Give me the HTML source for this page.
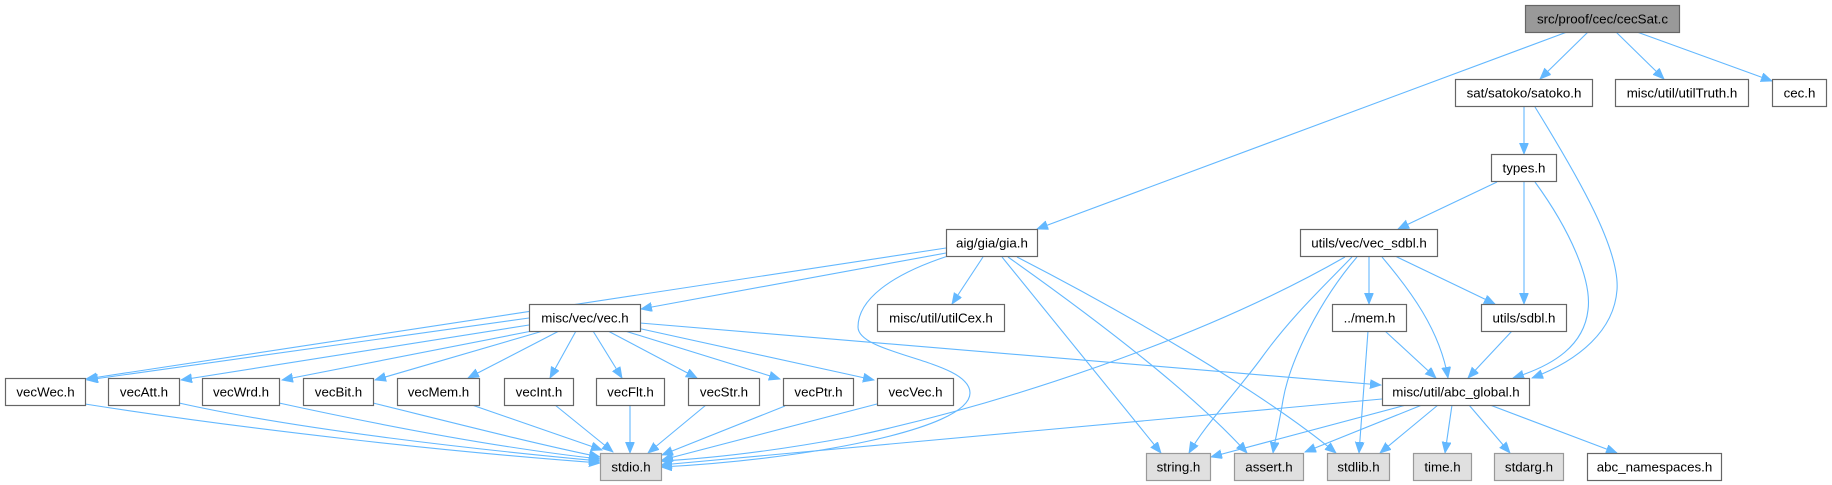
<!DOCTYPE html>
<html><head><meta charset="utf-8"><style>
html,body{margin:0;padding:0;background:#fff;}
svg{display:block;}
text{font-family:"Liberation Sans",Arial,sans-serif;font-size:13.33px;fill:#000;text-anchor:middle;}
.e{fill:none;stroke:#63b8ff;stroke-width:1.1;marker-end:url(#ah);}
.n rect{fill:#fff;stroke:#666;stroke-width:1.2;}
.g rect{fill:#e0e0e0;stroke:#999;stroke-width:1.2;}
.r rect{fill:#999;stroke:#666;stroke-width:1.2;}
</style></head><body>
<svg width="1832" height="485" viewBox="0 0 1832 485" xmlns="http://www.w3.org/2000/svg">
<defs>
<marker id="ah" markerWidth="12" markerHeight="10" refX="11" refY="4.5" orient="auto" markerUnits="userSpaceOnUse">
<path d="M0,0 L11,4.5 L0,9 z" fill="#63b8ff" stroke="#63b8ff" stroke-width="0.8"/>
</marker>
</defs>

<!-- edges -->
<path class="e" d="M1567,32 L1037,229"/>
<path class="e" d="M1588,32 L1540,79"/>
<path class="e" d="M1616,32 L1664,79"/>
<path class="e" d="M1637,32 L1772,81"/>
<path class="e" d="M1524,107 L1524,154"/>
<path class="e" d="M1535,107 C1580,180 1620,250 1617,290 C1614,330 1580,360 1532,378"/>
<path class="e" d="M1497,182 L1398,229"/>
<path class="e" d="M1524,182 L1524,304"/>
<path class="e" d="M1535,182 C1570,230 1592,280 1588,310 C1584,345 1555,365 1513,378"/>
<path class="e" d="M1345,257 C1200,340 1000,405 850,437 C780,450 720,458 661,461"/>
<path class="e" d="M1352,257 C1320,290 1290,318 1260,360 C1230,400 1205,425 1189,453"/>
<path class="e" d="M1357,257 C1320,300 1290,360 1283,400 C1279,425 1275,440 1273,453"/>
<path class="e" d="M1369,257 L1369,304"/>
<path class="e" d="M1382,257 C1410,290 1440,330 1448,378"/>
<path class="e" d="M1395,256 L1495,304"/>
<path class="e" d="M1368,331 L1359,453"/>
<path class="e" d="M1385,331 L1436,378"/>
<path class="e" d="M1512,331 L1468,378"/>
<path class="e" d="M1382,399 L661,465"/>
<path class="e" d="M1406,405 L1211,457"/>
<path class="e" d="M1422,405 L1305,452"/>
<path class="e" d="M1438,405 L1380,453"/>
<path class="e" d="M1452,405 L1445,453"/>
<path class="e" d="M1469,405 L1510,453"/>
<path class="e" d="M1490,405 L1617,453"/>

<path class="e" d="M946,248 L86,379"/>
<path class="e" d="M946,253 L641,309"/>
<path class="e" d="M948,256 C890,275 858,300 858,327 C858,355 970,360 970,393 C970,430 800,460 661,467"/>
<path class="e" d="M983,257 L952,304"/>
<path class="e" d="M1002,257 L1161,453"/>
<path class="e" d="M1008,257 C1090,315 1190,390 1247,453"/>
<path class="e" d="M1017,257 C1120,310 1260,390 1336,453"/>

<path class="e" d="M529,318 L87,380"/>
<path class="e" d="M529,325 L181,380"/>
<path class="e" d="M532,331 L282,380"/>
<path class="e" d="M543,331 L375,380"/>
<path class="e" d="M559,331 L468,378"/>
<path class="e" d="M576,331 L550,378"/>
<path class="e" d="M593,331 L622,378"/>
<path class="e" d="M608,331 L697,378"/>
<path class="e" d="M625,331 L780,379"/>
<path class="e" d="M637,328 L874,380"/>
<path class="e" d="M640,323 L1381,385"/>

<path class="e" d="M85,404 C250,430 450,452 600,463"/>
<path class="e" d="M179,403 C300,430 480,450 600,461"/>
<path class="e" d="M279,403 C380,425 500,448 600,459"/>
<path class="e" d="M373,403 C450,422 540,445 600,457"/>
<path class="e" d="M472,405 L602,450"/>
<path class="e" d="M555,405 L613,452"/>
<path class="e" d="M630,405 L630,453"/>
<path class="e" d="M706,405 L648,453"/>
<path class="e" d="M785,406 L662,455"/>
<path class="e" d="M877,404 L662,460"/>

<!-- nodes -->
<g class="r"><rect x="1525.5" y="5.5" width="154" height="27"/><text x="1602.5" y="23.5">src/proof/cec/cecSat.c</text></g>

<g class="n"><rect x="1455.5" y="79.5" width="137" height="27"/><text x="1524" y="97.5">sat/satoko/satoko.h</text></g>
<g class="n"><rect x="1615.5" y="79.5" width="133" height="27"/><text x="1682" y="97.5">misc/util/utilTruth.h</text></g>
<g class="n"><rect x="1772.5" y="79.5" width="54" height="27"/><text x="1799.5" y="97.5">cec.h</text></g>

<g class="n"><rect x="1491.5" y="154.5" width="65" height="27"/><text x="1524" y="172.5">types.h</text></g>

<g class="n"><rect x="946.5" y="229.5" width="91" height="27"/><text x="992" y="247.5">aig/gia/gia.h</text></g>
<g class="n"><rect x="1300.5" y="229.5" width="137" height="27"/><text x="1369" y="247.5">utils/vec/vec_sdbl.h</text></g>

<g class="n"><rect x="529.5" y="304.5" width="111" height="27"/><text x="585" y="322.5">misc/vec/vec.h</text></g>
<g class="n"><rect x="877.5" y="304.5" width="127" height="27"/><text x="941" y="322.5">misc/util/utilCex.h</text></g>
<g class="n"><rect x="1332.5" y="304.5" width="74" height="27"/><text x="1369.5" y="322.5">../mem.h</text></g>
<g class="n"><rect x="1481.5" y="304.5" width="85" height="27"/><text x="1524" y="322.5">utils/sdbl.h</text></g>

<g class="n"><rect x="5.5" y="378.5" width="80" height="27"/><text x="45.5" y="396.5">vecWec.h</text></g>
<g class="n"><rect x="108.5" y="378.5" width="71" height="27"/><text x="144" y="396.5">vecAtt.h</text></g>
<g class="n"><rect x="202.5" y="378.5" width="77" height="27"/><text x="241" y="396.5">vecWrd.h</text></g>
<g class="n"><rect x="303.5" y="378.5" width="70" height="27"/><text x="338.5" y="396.5">vecBit.h</text></g>
<g class="n"><rect x="397.5" y="378.5" width="82" height="27"/><text x="438.5" y="396.5">vecMem.h</text></g>
<g class="n"><rect x="504.5" y="378.5" width="69" height="27"/><text x="539" y="396.5">vecInt.h</text></g>
<g class="n"><rect x="596.5" y="378.5" width="68" height="27"/><text x="630.5" y="396.5">vecFlt.h</text></g>
<g class="n"><rect x="688.5" y="378.5" width="71" height="27"/><text x="724" y="396.5">vecStr.h</text></g>
<g class="n"><rect x="783.5" y="378.5" width="70" height="27"/><text x="818.5" y="396.5">vecPtr.h</text></g>
<g class="n"><rect x="877.5" y="378.5" width="76" height="27"/><text x="915.5" y="396.5">vecVec.h</text></g>
<g class="n"><rect x="1382.5" y="378.5" width="147" height="27"/><text x="1456" y="396.5">misc/util/abc_global.h</text></g>

<g class="g"><rect x="600.5" y="453.5" width="61" height="27"/><text x="631" y="471.5">stdio.h</text></g>
<g class="g"><rect x="1146.5" y="453.5" width="64" height="27"/><text x="1178.5" y="471.5">string.h</text></g>
<g class="g"><rect x="1234.5" y="453.5" width="69" height="27"/><text x="1269" y="471.5">assert.h</text></g>
<g class="g"><rect x="1327.5" y="453.5" width="62" height="27"/><text x="1358.5" y="471.5">stdlib.h</text></g>
<g class="g"><rect x="1413.5" y="453.5" width="58" height="27"/><text x="1442.5" y="471.5">time.h</text></g>
<g class="g"><rect x="1494.5" y="453.5" width="69" height="27"/><text x="1529" y="471.5">stdarg.h</text></g>
<g class="n"><rect x="1587.5" y="453.5" width="134" height="27"/><text x="1654.5" y="471.5">abc_namespaces.h</text></g>
</svg>
</body></html>
